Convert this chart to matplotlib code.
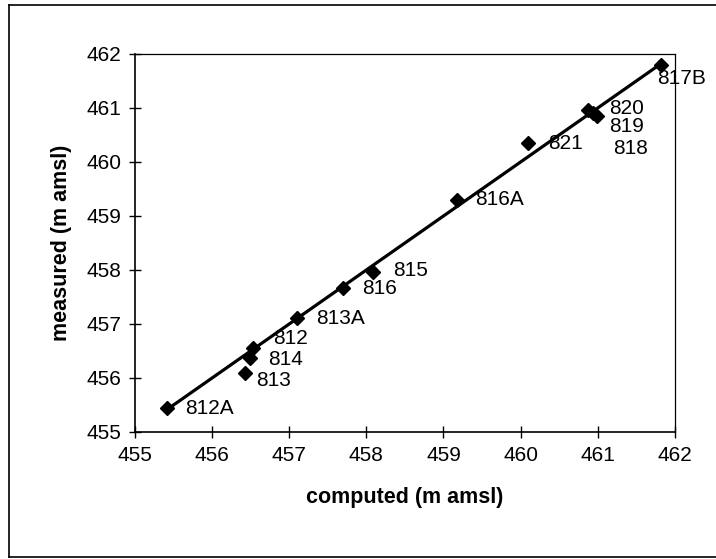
import matplotlib.pyplot as plt
from matplotlib.lines import Line2D

plt.rcParams['font.family'] = ['Liberation Sans', 'DejaVu Sans']

# data
wells = ['812A', '813', '814', '812', '813A', '816', '815',
         '816A', '821', '820', '819', '818', '817B']
computed = [455.42, 456.43, 456.49, 456.53, 457.10, 457.70, 458.08,
            459.17, 460.10, 460.87, 460.94, 460.99, 461.82]
measured = [455.44, 456.09, 456.37, 456.56, 457.11, 457.67, 457.96,
            459.30, 460.35, 460.96, 460.91, 460.85, 461.80]
ticks = [455, 456, 457, 458, 459, 460, 461, 462]

# label offsets (pixels) for each well name
label_off = [(18, 0), (11, -7), (18, -1), (20, 9), (19, 0), (19, -1), (21, 2),
             (19, 0), (20, 0), (21, 2), (16, -14), (16, -32), (-4, -14)]

fig = plt.figure(figsize=(7.16, 5.59), dpi=100)
ax = fig.add_axes([0.1885, 0.2272, 0.754, 0.6762])

# 1:1 line
ax.plot(sorted(computed), sorted(computed), color='black', lw=2.3, zorder=2)
ax.plot(computed, measured, linestyle='none', marker='D', markersize=7.5,
        color='black', zorder=3)

for name, x, y, off in zip(wells, computed, measured, label_off):
    ax.annotate(name, (x, y), xytext=off, textcoords='offset pixels',
                fontsize=15, va='center', ha='left')

ax.set_xlim(455, 462)
ax.set_ylim(455, 462)
ax.set_xticks(ticks)
ax.set_yticks(ticks)
ax.tick_params(direction='inout', length=8, width=1, labelsize=15, pad=6)
for s in ax.spines.values():
    s.set_linewidth(1.2)
ax.spines['top'].set_linewidth(0.9)
ax.spines['right'].set_linewidth(0.9)

ax.set_xlabel('computed (m amsl)', fontsize=15.5, fontweight='bold', labelpad=16)
ax.set_ylabel('measured (m amsl)', fontsize=15.5, fontweight='bold', labelpad=10)

# outer chart border (left, top, bottom)
W, H = 716, 559
fig.add_artist(Line2D([9 / W, 9 / W], [1 - 5 / H, 1 - 557 / H], color='black', lw=1.2))
fig.add_artist(Line2D([9 / W, 1], [1 - 5 / H, 1 - 5 / H], color='black', lw=1.2))
fig.add_artist(Line2D([9 / W, 1], [1 - 557 / H, 1 - 557 / H], color='black', lw=1.2))

fig.savefig('out.png', dpi=100)
